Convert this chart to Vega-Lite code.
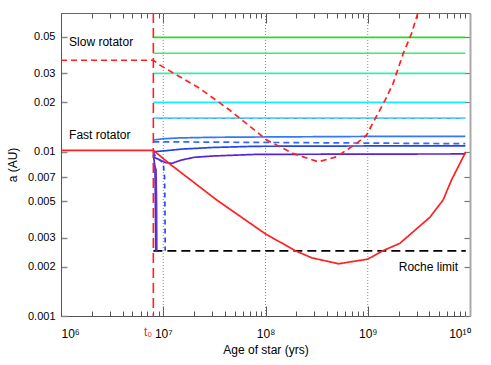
{
  "$schema": "https://vega.github.io/schema/vega-lite/v6.json",
  "width": 409,
  "height": 303,
  "autosize": {"type": "none"},
  "padding": {"left": 61, "top": 13, "right": 21, "bottom": 49},
  "background": "white",
  "config": {
    "view": {"stroke": null},
    "font": "Liberation Sans",
    "axis": {"labelFont": "Liberation Sans", "titleFont": "Liberation Sans", "grid": false}
  },
  "resolve": {"axis": {"x": "independent", "y": "independent"}},
  "layer": [
    {
      "data": {"values": [{"t": 10000000}, {"t": 100000000}, {"t": 1000000000}]},
      "mark": {"type": "rule", "color": "#8a8a8a", "strokeDash": [1, 2], "strokeWidth": 1},
      "encoding": {
        "x": {
          "field": "t", "type": "quantitative",
          "scale": {"type": "log", "domain": [1000000, 10000000000], "nice": false},
          "axis": null
        }
      }
    },
    {
      "data": {
        "values": [
          {"s": "a_roche", "t": 8000000, "a": 0.00249},
          {"s": "a_roche", "t": 9100000000, "a": 0.00249},
          {"s": "b_g1", "t": 8000000, "a": 0.0498},
          {"s": "b_g1", "t": 9000000000, "a": 0.0498},
          {"s": "c_g2", "t": 8000000, "a": 0.0398},
          {"s": "c_g2", "t": 9000000000, "a": 0.0398},
          {"s": "d_g3", "t": 8000000, "a": 0.03},
          {"s": "d_g3", "t": 9000000000, "a": 0.03},
          {"s": "e_c1", "t": 8000000, "a": 0.02},
          {"s": "e_c1", "t": 9000000000, "a": 0.02},
          {"s": "f_c2", "t": 8000000, "a": 0.016},
          {"s": "f_c2", "t": 9000000000, "a": 0.016},
          {"s": "g_c2d", "t": 8000000, "a": 0.016},
          {"s": "g_c2d", "t": 9000000000, "a": 0.016},
          {"s": "h_b1", "t": 8000000, "a": 0.0118},
          {"s": "h_b1", "t": 10000000, "a": 0.012},
          {"s": "h_b1", "t": 14000000, "a": 0.01214},
          {"s": "h_b1", "t": 30000000, "a": 0.01225},
          {"s": "h_b1", "t": 80000000, "a": 0.0123},
          {"s": "h_b1", "t": 1000000000, "a": 0.0124},
          {"s": "h_b1", "t": 9000000000, "a": 0.0124},
          {"s": "i_b1d", "t": 8000000, "a": 0.0115},
          {"s": "i_b1d", "t": 10000000, "a": 0.0115},
          {"s": "i_b1d", "t": 100000000, "a": 0.0114},
          {"s": "i_b1d", "t": 1000000000, "a": 0.0113},
          {"s": "i_b1d", "t": 9000000000, "a": 0.0112},
          {"s": "j_b2", "t": 8000000, "a": 0.01},
          {"s": "j_b2", "t": 10400000, "a": 0.01014},
          {"s": "j_b2", "t": 15000000, "a": 0.01038},
          {"s": "j_b2", "t": 30000000, "a": 0.01062},
          {"s": "j_b2", "t": 80000000, "a": 0.0108},
          {"s": "j_b2", "t": 1000000000, "a": 0.01085},
          {"s": "j_b2", "t": 9000000000, "a": 0.01085},
          {"s": "k_p1", "t": 8000000, "a": 0.0093},
          {"s": "k_p1", "t": 10400000, "a": 0.00862},
          {"s": "k_p1", "t": 12100000, "a": 0.0085},
          {"s": "k_p1", "t": 15000000, "a": 0.0089},
          {"s": "k_p1", "t": 20000000, "a": 0.00925},
          {"s": "k_p1", "t": 30000000, "a": 0.00942},
          {"s": "k_p1", "t": 80000000, "a": 0.00964},
          {"s": "k_p1", "t": 1000000000, "a": 0.00968},
          {"s": "k_p1", "t": 9000000000, "a": 0.0097},
          {"s": "l_p2", "t": 8000000, "a": 0.0096},
          {"s": "l_p2", "t": 8150000, "a": 0.0088},
          {"s": "l_p2", "t": 8300000, "a": 0.008},
          {"s": "l_p2", "t": 8350000, "a": 0.006},
          {"s": "l_p2", "t": 8400000, "a": 0.004},
          {"s": "l_p2", "t": 8450000, "a": 0.0025},
          {"s": "m_p3", "t": 8000000, "a": 0.0085},
          {"s": "m_p3", "t": 8500000, "a": 0.0078},
          {"s": "m_p3", "t": 8600000, "a": 0.005},
          {"s": "m_p3", "t": 8650000, "a": 0.0025},
          {"s": "n_bd", "t": 8000000, "a": 0.01},
          {"s": "n_bd", "t": 8500000, "a": 0.0092},
          {"s": "n_bd", "t": 9300000, "a": 0.0089},
          {"s": "n_bd", "t": 10000000, "a": 0.0085},
          {"s": "n_bd", "t": 10300000, "a": 0.007},
          {"s": "n_bd", "t": 10400000, "a": 0.0045},
          {"s": "n_bd", "t": 10450000, "a": 0.0025},
          {"s": "o_rs", "t": 1000000, "a": 0.0102},
          {"s": "o_rs", "t": 8000000, "a": 0.0102},
          {"s": "o_rs", "t": 11630000, "a": 0.00842},
          {"s": "o_rs", "t": 33300000, "a": 0.00509},
          {"s": "o_rs", "t": 100000000, "a": 0.00316},
          {"s": "o_rs", "t": 198000000, "a": 0.00249},
          {"s": "o_rs", "t": 284000000, "a": 0.00226},
          {"s": "o_rs", "t": 520000000, "a": 0.00208},
          {"s": "o_rs", "t": 1000000000, "a": 0.00222},
          {"s": "o_rs", "t": 1410000000, "a": 0.0025},
          {"s": "o_rs", "t": 2060000000, "a": 0.00277},
          {"s": "o_rs", "t": 4050000000, "a": 0.00399},
          {"s": "o_rs", "t": 5460000000, "a": 0.00509},
          {"s": "o_rs", "t": 6590000000, "a": 0.00673},
          {"s": "o_rs", "t": 9100000000, "a": 0.01},
          {"s": "p_rd", "t": 1000000, "a": 0.0361},
          {"s": "p_rd", "t": 8000000, "a": 0.0361},
          {"s": "p_rd", "t": 9290000, "a": 0.0337},
          {"s": "p_rd", "t": 22800000, "a": 0.0243},
          {"s": "p_rd", "t": 44900000, "a": 0.0179},
          {"s": "p_rd", "t": 70400000, "a": 0.0143},
          {"s": "p_rd", "t": 103000000, "a": 0.01178},
          {"s": "p_rd", "t": 185000000, "a": 0.00978},
          {"s": "p_rd", "t": 327000000, "a": 0.00869},
          {"s": "p_rd", "t": 495000000, "a": 0.00932},
          {"s": "p_rd", "t": 777000000, "a": 0.01125},
          {"s": "p_rd", "t": 973000000, "a": 0.01263},
          {"s": "p_rd", "t": 1220000000, "a": 0.0165},
          {"s": "p_rd", "t": 1470000000, "a": 0.0205},
          {"s": "p_rd", "t": 1770000000, "a": 0.0261},
          {"s": "p_rd", "t": 2220000000, "a": 0.0396},
          {"s": "p_rd", "t": 2680000000, "a": 0.0525},
          {"s": "p_rd", "t": 3090000000, "a": 0.07}
        ]
      },
      "mark": {"type": "line", "clip": true, "strokeWidth": 1.7},
      "encoding": {
        "x": {
          "field": "t", "type": "quantitative",
          "scale": {"type": "log", "domain": [1000000, 10000000000], "nice": false},
          "axis": {
            "orient": "bottom",
            "values": [1000000, 2000000, 3000000, 4000000, 5000000, 6000000, 7000000, 8000000, 9000000, 10000000, 20000000, 30000000, 40000000, 50000000, 60000000, 70000000, 80000000, 90000000, 100000000, 200000000, 300000000, 400000000, 500000000, 600000000, 700000000, 800000000, 900000000, 1000000000, 2000000000, 3000000000, 4000000000, 5000000000, 6000000000, 7000000000, 8000000000, 9000000000, 10000000000],
            "labelExpr": "datum.value == 1000000 ? '10⁶' : datum.value == 10000000 ? '10⁷' : datum.value == 100000000 ? '10⁸' : datum.value == 1000000000 ? '10⁹' : datum.value == 10000000000 ? '10¹⁰' : ''",
            "tickSize": {"condition": {"test": "indexof([1000000, 10000000, 100000000, 1000000000, 10000000000], datum.value) >= 0", "value": -10}, "value": -5},
            "tickColor": "#555555", "tickWidth": 1,
            "domain": true, "domainColor": "#555555", "domainWidth": 1,
            "labelPadding": 22, "labelFontSize": 12, "labelColor": "#000000", "labelOverlap": false,
            "title": "Age of star (yrs)", "titleFontSize": 12, "titleFontWeight": "normal",
            "titleColor": "#000000", "titlePadding": 0
          }
        },
        "y": {
          "field": "a", "type": "quantitative",
          "scale": {"type": "log", "domain": [0.001, 0.07], "nice": false},
          "axis": {
            "orient": "left",
            "values": [0.001, 0.002, 0.003, 0.005, 0.007, 0.01, 0.02, 0.03, 0.05],
            "format": ".3~f",
            "tickSize": -6, "tickColor": "#888888", "tickWidth": 1.5,
            "domain": true, "domainColor": "#555555", "domainWidth": 1,
            "labelPadding": 12, "labelFontSize": 11, "labelColor": "#000000", "labelOverlap": false,
            "title": "a (AU)", "titleFontSize": 12, "titleFontWeight": "normal",
            "titleColor": "#000000", "titlePadding": 8
          }
        },
        "detail": {"field": "s"},
        "color": {
          "field": "s", "type": "nominal", "legend": null,
          "scale": {
            "domain": ["a_roche", "b_g1", "c_g2", "d_g3", "e_c1", "f_c2", "g_c2d", "h_b1", "i_b1d", "j_b2", "k_p1", "l_p2", "m_p3", "n_bd", "o_rs", "p_rd"],
            "range": ["#000000", "#22dd22", "#33ee77", "#33eeaa", "#11eeff", "#2aa8f0", "#66ccff", "#3377ff", "#3366ff", "#2244ee", "#5522dd", "#5522cc", "#6633cc", "#3344ff", "#ff2020", "#ff2020"]
          }
        },
        "strokeDash": {
          "field": "s", "type": "nominal", "legend": null,
          "scale": {
            "domain": ["a_roche", "b_g1", "c_g2", "d_g3", "e_c1", "f_c2", "g_c2d", "h_b1", "i_b1d", "j_b2", "k_p1", "l_p2", "m_p3", "n_bd", "o_rs", "p_rd"],
            "range": [[9, 5], [1, 0], [1, 0], [1, 0], [1, 0], [1, 0], [6, 3], [1, 0], [6, 4], [1, 0], [1, 0], [1, 0], [1, 0], [5, 4], [1, 0], [6, 4]]
          }
        }
      }
    },
    {
      "data": {"values": [{"t": 8000000}]},
      "mark": {"type": "rule", "color": "#ff2020", "strokeDash": [10, 5], "strokeWidth": 1.6},
      "encoding": {
        "x": {
          "field": "t", "type": "quantitative",
          "scale": {"type": "log", "domain": [1000000, 10000000000], "nice": false},
          "axis": null
        }
      }
    },
    {
      "data": {
        "values": [
          {"label": "Slow rotator", "t": 1200000, "a": 0.0466},
          {"label": "Fast rotator", "t": 1200000, "a": 0.01264},
          {"label": "Roche limit", "t": 2010000000, "a": 0.002}
        ]
      },
      "mark": {"type": "text", "align": "left", "baseline": "middle", "fontSize": 12, "color": "#000000", "font": "Liberation Sans"},
      "encoding": {
        "x": {
          "field": "t", "type": "quantitative",
          "scale": {"type": "log", "domain": [1000000, 10000000000], "nice": false},
          "axis": {
            "orient": "top",
            "values": [1000000, 2000000, 3000000, 4000000, 5000000, 6000000, 7000000, 8000000, 9000000, 10000000, 20000000, 30000000, 40000000, 50000000, 60000000, 70000000, 80000000, 90000000, 100000000, 200000000, 300000000, 400000000, 500000000, 600000000, 700000000, 800000000, 900000000, 1000000000, 2000000000, 3000000000, 4000000000, 5000000000, 6000000000, 7000000000, 8000000000, 9000000000, 10000000000],
            "labels": false, "title": null,
            "tickSize": {"condition": {"test": "indexof([1000000, 10000000, 100000000, 1000000000, 10000000000], datum.value) >= 0", "value": -10}, "value": -5},
            "tickColor": "#555555", "tickWidth": 1,
            "domain": true, "domainColor": "#666666", "domainWidth": 1
          }
        },
        "y": {
          "field": "a", "type": "quantitative",
          "scale": {"type": "log", "domain": [0.001, 0.07], "nice": false},
          "axis": {
            "orient": "right",
            "values": [0.001, 0.002, 0.003, 0.005, 0.007, 0.01, 0.02, 0.03, 0.05],
            "labels": false, "title": null,
            "tickSize": -6, "tickColor": "#777777", "tickWidth": 1.2,
            "domain": true, "domainColor": "#aaaaaa", "domainWidth": 2
          }
        },
        "text": {"field": "label", "type": "nominal"}
      }
    },
    {
      "data": {"values": [{"label": "t₀", "t": 7100000, "a": 0.001}]},
      "mark": {"type": "text", "align": "center", "baseline": "middle", "fontSize": 12, "color": "#ff2020", "dy": 16, "font": "Liberation Sans"},
      "encoding": {
        "x": {
          "field": "t", "type": "quantitative",
          "scale": {"type": "log", "domain": [1000000, 10000000000], "nice": false},
          "axis": null
        },
        "y": {
          "field": "a", "type": "quantitative",
          "scale": {"type": "log", "domain": [0.001, 0.07], "nice": false},
          "axis": null
        },
        "text": {"field": "label", "type": "nominal"}
      }
    }
  ]
}
